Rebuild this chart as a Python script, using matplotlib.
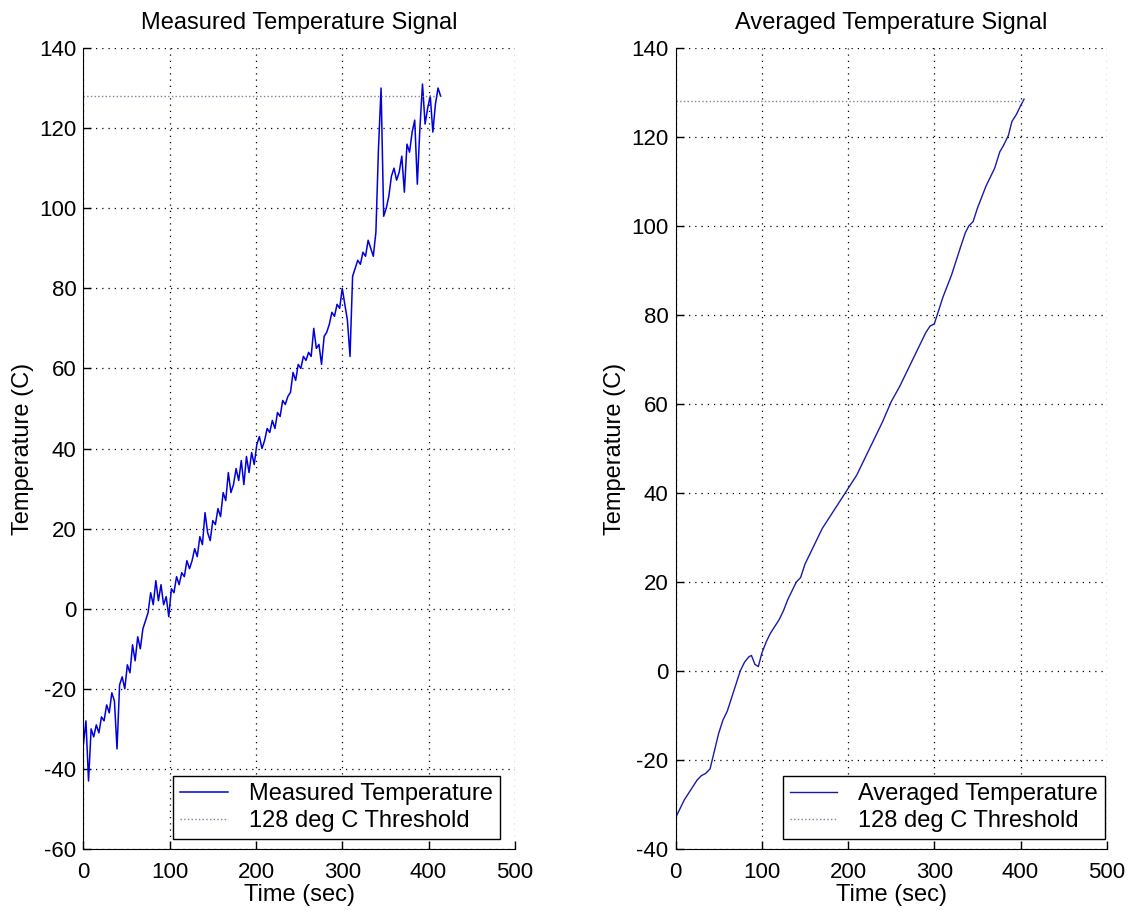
import numpy as np
import matplotlib
matplotlib.use("Agg")
import matplotlib.pyplot as plt

plt.rcParams['font.family'] = ['Liberation Sans', 'DejaVu Sans']
plt.rcParams['axes.unicode_minus'] = False

meas_time = np.arange(0, 416, 3)
meas_temp = [-34, -28, -43, -30, -32, -29, -31, -27, -28, -24,
             -26, -21, -23, -35, -19, -17, -20, -14, -16, -9,
             -13, -7, -10, -5, -3, -1, 4, 1, 7, 2,
             6, 1, 3, -2, 5, 4, 8, 6, 9, 8,
             12, 10, 12, 15, 13, 18, 16, 24, 19, 17,
             22, 21, 25, 23, 29, 27, 34, 29, 31, 35,
             32, 37, 31, 38, 34, 39, 36, 41, 43, 40,
             42, 45, 44, 47, 45, 49, 48, 52, 51, 53,
             54, 59, 57, 61, 60, 63, 62, 64, 63, 70,
             65, 66, 61, 68, 69, 71, 74, 73, 76, 75,
             80, 76, 72, 63, 83, 85, 87, 86, 89, 88,
             92, 90, 88, 94, 115, 130, 98, 100, 103, 108,
             110, 107, 109, 113, 104, 116, 114, 119, 122, 106,
             120, 131, 121, 125, 128, 119, 126, 130, 128]

# averaged signal
avg_time = [0, 5, 10, 15, 20, 25, 30, 35, 40, 45, 50, 55, 60, 65, 70, 75, 80, 85, 88,
            92, 96, 100, 105, 110, 115, 120, 125, 130, 135, 140, 145, 150, 160, 170,
            180, 190, 200, 210, 220, 230, 240, 250, 260, 270, 280, 290, 295, 300, 305,
            310, 320, 330, 336, 340, 345, 350, 360, 370, 376, 380, 386, 390, 395, 400, 404]
avg_temp = [-33, -31, -29, -27.5, -26, -24.5, -23.5, -23, -22, -18, -14, -11, -9, -6, -3,
            0, 2, 3.2, 3.5, 1.5, 1, 4, 6.5, 8.5, 10, 11.5, 13.5, 16, 18, 20, 21, 24, 28, 32,
            35, 38, 41, 44, 48, 52, 56, 60.5, 64, 68, 72, 76, 77.5, 78, 81,
            84, 89, 95, 98.5, 100, 101, 104, 109, 113, 116.7, 118, 120.4, 123.5, 125, 127, 128.5]

threshold = 128

fig = plt.figure(figsize=(11.31, 9.16), dpi=100)
ax1 = fig.add_axes([0.0737, 0.0731, 0.3815, 0.8745])
ax2 = fig.add_axes([0.5973, 0.0731, 0.3813, 0.8745])

def style(ax, ylim, yticks):
    ax.set_xlim(0, 500)
    ax.set_ylim(*ylim)
    ax.set_xticks(range(0, 501, 100))
    ax.set_yticks(yticks)
    ax.grid(True, linestyle=(0, (1, 4)), color='k', linewidth=0.9)
    ax.spines['top'].set_visible(False)
    ax.spines['right'].set_visible(False)
    ax.tick_params(direction='in', length=6, labelsize=16, width=1)
    ax.tick_params(axis='x', pad=9)
    ax.tick_params(axis='y', pad=5)
    ax.set_xlabel('Time (sec)', fontsize=17, labelpad=1)
    ax.set_ylabel('Temperature (C)', fontsize=17, labelpad=4)

ax1.plot(meas_time, meas_temp, color='#0000dd', linewidth=1.1, label='Measured Temperature')
ax1.plot([0, meas_time[-1]], [threshold, threshold], ':', color='#8080a0', linewidth=1,
         label='128 deg C Threshold')
style(ax1, (-60, 140), range(-60, 141, 20))
ax1.set_title('Measured Temperature Signal', fontsize=17, pad=14)

ax2.plot(avg_time, avg_temp, color='#1a1aaa', linewidth=1, label='Averaged Temperature')
ax2.plot([0, avg_time[-1]], [threshold, threshold], ':', color='#8080a0', linewidth=1,
         label='128 deg C Threshold')
style(ax2, (-40, 140), range(-40, 141, 20))
ax2.set_title('Averaged Temperature Signal', fontsize=17, pad=14)

for ax, anchor in [(ax1, (0.965, 0.0125)), (ax2, (0.996, 0.0125))]:
    leg = ax.legend(loc='lower right', bbox_to_anchor=anchor, borderaxespad=0,
                    fontsize=17, fancybox=False, framealpha=1, edgecolor='k',
                    handlelength=2.0, handletextpad=0.9, labelspacing=0.2,
                    borderpad=0.3)
    leg.get_frame().set_linewidth(1)

fig.savefig('out.png', dpi=100)
